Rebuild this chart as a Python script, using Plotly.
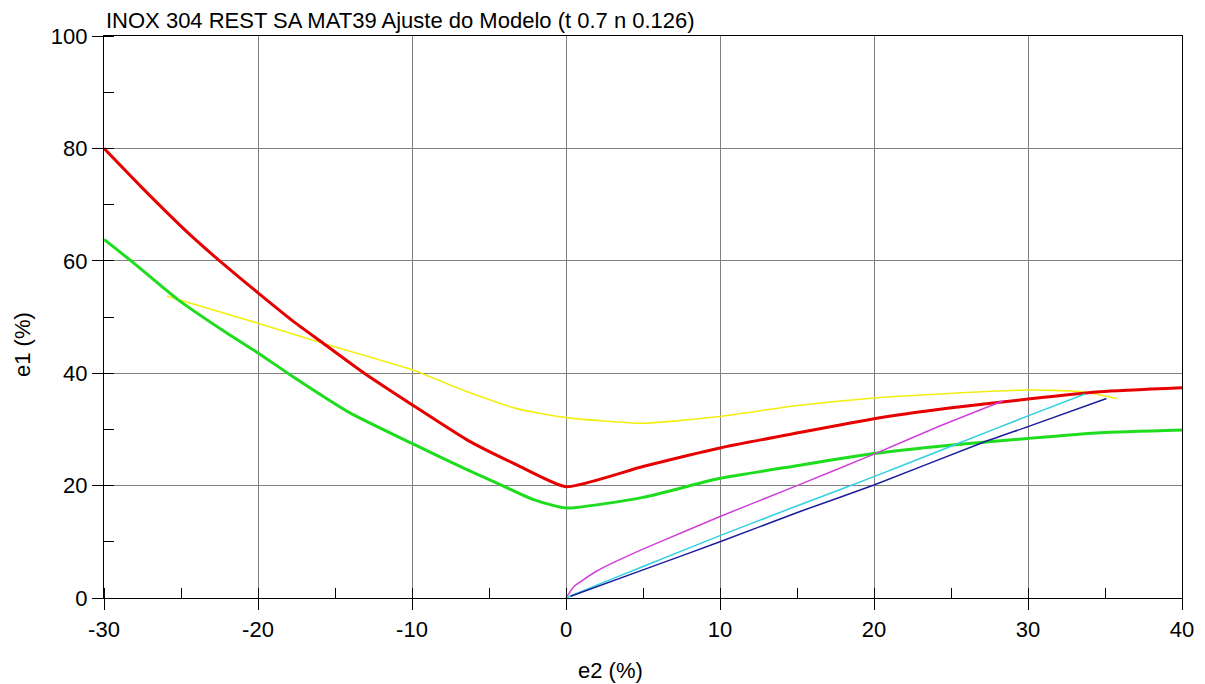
import plotly.graph_objects as go

# Red curve
red_x = [-30, -27.6, -24.4, -22.2, -20.0, -17.6, -15.9, -13.1, -10.0, -6.4, -3.2, 0.0,
         5.0, 10.0, 14.9, 20.0, 24.9, 30.0, 34.7, 40.0]
red_y = [80.0, 73.2, 64.6, 59.3, 54.3, 49.0, 45.6, 40.0, 34.4, 28.1, 23.7, 19.8,
         23.4, 26.7, 29.3, 31.9, 33.8, 35.4, 36.7, 37.4]

# Green curve
green_x = [-30, -28.2, -25.2, -22.0, -20.0, -17.9, -14.0, -10.0, -6.4, -4.2, -2.1, 0.0,
           5.0, 10.0, 14.9, 20.0, 24.9, 30.0, 34.7, 40.0]
green_y = [63.8, 59.9, 53.1, 47.1, 43.6, 39.7, 32.9, 27.5, 22.8, 20.1, 17.5, 16.0,
           17.9, 21.3, 23.5, 25.7, 27.2, 28.4, 29.4, 29.9]

# Yellow curve
yellow_x = [-25.9, -20.0, -15.9, -10.0, -6.4, -3.2, 0.0, 5.0, 10.0, 14.9, 20.0, 24.9,
            30.0, 33.1, 34.2, 35.8]
yellow_y = [53.7, 48.9, 45.4, 40.6, 36.7, 33.7, 32.1, 31.1, 32.3, 34.2, 35.6, 36.4,
            37.0, 36.8, 36.4, 35.5]

# Magenta curve
magenta_x = [0.0, 0.5, 1.0, 2.0, 3.0, 5.0, 7.5, 10.0, 15.0, 20.0, 24.0, 28.4]
magenta_y = [0.0, 2.0, 3.0, 4.8, 6.2, 8.7, 11.6, 14.5, 20.0, 25.6, 30.3, 35.1]

# Cyan curve
cyan_x = [0.0, 2.0, 5.0, 10.0, 15.2, 20.0, 25.0, 30.0, 33.7]
cyan_y = [0.0, 2.3, 5.6, 11.1, 16.6, 21.6, 27.0, 32.4, 36.3]

# Blue curve
blue_x = [0.3, 5.0, 10.0, 15.2, 20.0, 26.9, 30.0, 35.1]
blue_y = [0.3, 5.0, 10.0, 15.4, 20.1, 27.5, 30.5, 35.5]

x_ticks = [-30, -20, -10, 0, 10, 20, 30, 40]
y_ticks = [0, 20, 40, 60, 80, 100]

title_text = "INOX 304 REST SA MAT39 Ajuste do Modelo (t 0.7 n 0.126)"
xlabel = "e2 (%)"
ylabel = "e1 (%)"

FONT = "Liberation Sans, Arial, sans-serif"
FS = 22

fig = go.Figure()
series = [
    (yellow_x, yellow_y, "#f2ee10", 1.6),
    (red_x, red_y, "#e60000", 3),
    (green_x, green_y, "#1edc1e", 3),
    (magenta_x, magenta_y, "#d040d8", 1.5),
    (cyan_x, cyan_y, "#30d0e0", 1.5),
    (blue_x, blue_y, "#1c1c9c", 1.5),
]
for xs, ys, c, w in series:
    fig.add_trace(go.Scatter(x=xs, y=ys, mode="lines",
                             line=dict(color=c, width=w, shape="spline", smoothing=0.5),
                             showlegend=False, hoverinfo="skip"))

W, H = 1205, 684
L, R, T, B = 104, 23, 36, 86
ph = H - T - B
pw = W - L - R

axis_common = dict(
    showgrid=True, gridcolor="#808080", gridwidth=1,
    zeroline=False, showline=True, linecolor="#000000", linewidth=1.3,
    mirror=True, ticks="outside", ticklen=11, tickcolor="#000000", tickwidth=1.3,
    tickfont=dict(family=FONT, size=FS, color="#000000"),
)

fig.update_xaxes(range=[-30, 40], tickvals=x_ticks, ticktext=[str(v) for v in x_ticks],
                 minor=dict(dtick=5, ticks="inside", ticklen=10, tickcolor="#000000",
                            tickwidth=1.3, showgrid=False),
                 **axis_common)
fig.update_yaxes(range=[0, 100], tickvals=y_ticks, ticktext=[str(v) for v in y_ticks],
                 minor=dict(dtick=10, ticks="inside", ticklen=10, tickcolor="#000000",
                            tickwidth=1.3, showgrid=False),
                 ticklabelstandoff=0,
                 **axis_common)

fig.update_layout(
    width=W, height=H,
    margin=dict(l=L, r=R, t=T, b=B),
    plot_bgcolor="#ffffff", paper_bgcolor="#ffffff",
    font=dict(family=FONT, size=FS, color="#000000"),
    annotations=[
        dict(text=title_text, xref="paper", yref="paper", x=0, y=1 + (T - 21) / ph,
             xanchor="left", yanchor="middle", showarrow=False,
             font=dict(family=FONT, size=FS, color="#000000")),
        dict(text=xlabel, xref="paper", yref="paper", x=(610 - L) / pw, y=-(670 - (T + ph)) / ph,
             xanchor="center", yanchor="middle", showarrow=False,
             font=dict(family=FONT, size=FS, color="#000000")),
        dict(text=ylabel, xref="paper", yref="paper", x=-(L - 22) / pw, y=1 - (345 - T) / ph,
             xanchor="center", yanchor="middle", showarrow=False, textangle=-90,
             font=dict(family=FONT, size=FS, color="#000000")),
    ],
)

fig.write_html("out.html")
